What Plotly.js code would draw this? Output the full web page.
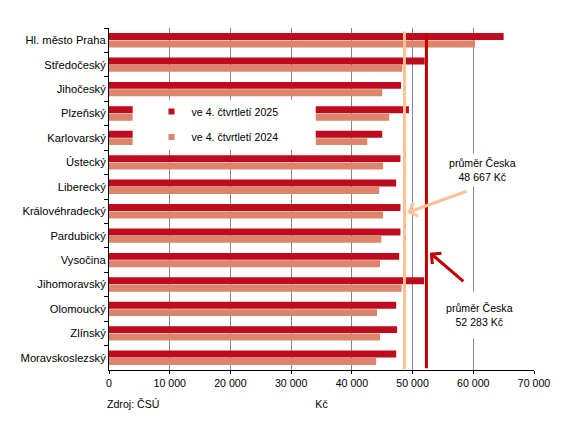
<!DOCTYPE html>
<html>
<head>
<meta charset="utf-8">
<script src="https://cdn.plot.ly/plotly-3.0.1.min.js"></script>
<style>html,body{margin:0;padding:0;background:#fff}</style>
</head>
<body>
<div id="chart" style="width:561px;height:426px"></div>
<script>
// kraje, shora dolu
var regions = ['Hl. město Praha', 'Středočeský', 'Jihočeský', 'Plzeňský', 'Karlovarský', 'Ústecký', 'Liberecký',
	'Královéhradecký', 'Pardubický', 'Vysočina', 'Jihomoravský', 'Olomoucký', 'Zlínský', 'Moravskoslezský'];
var wage2025 = [65000, 52000, 48100, 49400, 45000, 48000, 47300, 48000, 48000, 47800, 51900, 47300, 47450, 47300];
var wage2024 = [60300, 48300, 45000, 46150, 42550, 45150, 44500, 45150, 44850, 44650, 48200, 44150, 44650, 44000];
var seriesNames = ['ve 4. čtvrtletí 2025', 've 4. čtvrtletí 2024'];
var avgCZ = [52283, 48667];
var avgLabels = ['průměr Česka<br>52 283 Kč', 'průměr Česka<br>48 667 Kč'];

var dark = '#BE0B1E', salmon = '#DC856A';
var lineDark = '#C00000', linePeach = '#FBC394';
var fnt = 'Arial, "Liberation Sans", sans-serif';

var data = [{
		type: 'bar', orientation: 'h', name: seriesNames[0],
		x: wage2025, y: regions, marker: {color: dark}, showlegend: false, hoverinfo: 'none'
	},
	{
		type: 'bar', orientation: 'h', name: seriesNames[1],
		x: wage2024, y: regions, marker: {color: salmon}, showlegend: false, hoverinfo: 'none'
	},
	// jen pro legendu (male ctverecky)
	{
		type: 'scatter', mode: 'markers', name: seriesNames[0], x: [null], y: [null],
		marker: {symbol: 'square', size: 6, color: dark}, legend: 'legend'
	},
	{
		type: 'scatter', mode: 'markers', name: seriesNames[1], x: [null], y: [null],
		marker: {symbol: 'square', size: 6, color: salmon}, legend: 'legend2'
	}
];

var legendBase = {
	bgcolor: 'rgba(0,0,0,0)', borderwidth: 0, xanchor: 'left', yanchor: 'middle',
	font: {family: fnt, size: 10.6, color: '#000'}
};

var layout = {
	width: 561, height: 426,
	margin: {l: 109, r: 27, t: 28, b: 56},
	paper_bgcolor: '#fff', plot_bgcolor: '#fff',
	font: {family: fnt, size: 10.6, color: '#000'},
	separators: ', ',
	barmode: 'group', bargap: 0.39, bargroupgap: 0.07,
	xaxis: {
		range: [0, 70000], dtick: 10000, tickformat: ',d',
		showgrid: true, gridcolor: '#868686', gridwidth: 1, zeroline: false,
		showline: true, linecolor: '#000', linewidth: 1,
		ticks: 'outside', ticklen: 3, tickcolor: '#000',
		title: {text: 'Kč', standoff: 12, font: {size: 10.6}}
	},
	yaxis: {
		autorange: 'reversed', type: 'category',
		showline: true, linecolor: '#000', linewidth: 1,
		ticks: 'outside', ticklen: 4, tickcolor: '#000', tickson: 'boundaries',
		showgrid: false, tickfont: {size: 11.2}
	},
	legend: Object.assign({x: 0.1, y: 0.756}, legendBase),
	legend2: Object.assign({x: 0.1, y: 0.681}, legendBase),
	shapes: [{
			// bily podklad legendy
			type: 'rect', layer: 'above', xref: 'x', yref: 'paper',
			x0: 3900, x1: 34050, y0: 0.644, y1: 0.79,
			fillcolor: '#fff', line: {width: 0}
		},
		{
			type: 'line', layer: 'above', xref: 'x', yref: 'paper',
			x0: avgCZ[1], x1: avgCZ[1], y0: 0.003, y1: 0.99,
			line: {color: linePeach, width: 3}
		},
		{
			type: 'line', layer: 'above', xref: 'x', yref: 'paper',
			x0: avgCZ[0], x1: avgCZ[0], y0: 0.005, y1: 0.985,
			line: {color: lineDark, width: 3}
		}
	],
	annotations: [{
			text: avgLabels[1], xref: 'paper', yref: 'paper', x: 0.879, y: 0.585,
			xanchor: 'center', yanchor: 'middle',
			showarrow: false, bgcolor: '#fff', borderpad: 3, font: {size: 10.6, color: '#000'}
		},
		{
			text: avgLabels[0], xref: 'paper', yref: 'paper', x: 0.872, y: 0.162,
			xanchor: 'center', yanchor: 'middle',
			showarrow: false, bgcolor: '#fff', borderpad: 10, font: {size: 10.6, color: '#000'}
		},
		{
			text: '', xref: 'x', yref: 'paper', x: 49100, y: 0.46, ax: 61, ay: -22,
			showarrow: true, arrowhead: 4, arrowsize: 0.9, arrowwidth: 3, arrowcolor: linePeach
		},
		{
			text: '', xref: 'x', yref: 'paper', x: 52850, y: 0.343, ax: 35, ay: 30,
			showarrow: true, arrowhead: 4, arrowsize: 0.9, arrowwidth: 3, arrowcolor: lineDark
		},
		{
			text: 'Zdroj: ČSÚ', xref: 'paper', yref: 'paper', x: -0.01, y: -0.098,
			xanchor: 'left', yanchor: 'middle', showarrow: false, font: {size: 10.6, color: '#000'}
		}
	]
};

Plotly.newPlot('chart', data, layout, {staticPlot: true});
</script>
</body>
</html>
